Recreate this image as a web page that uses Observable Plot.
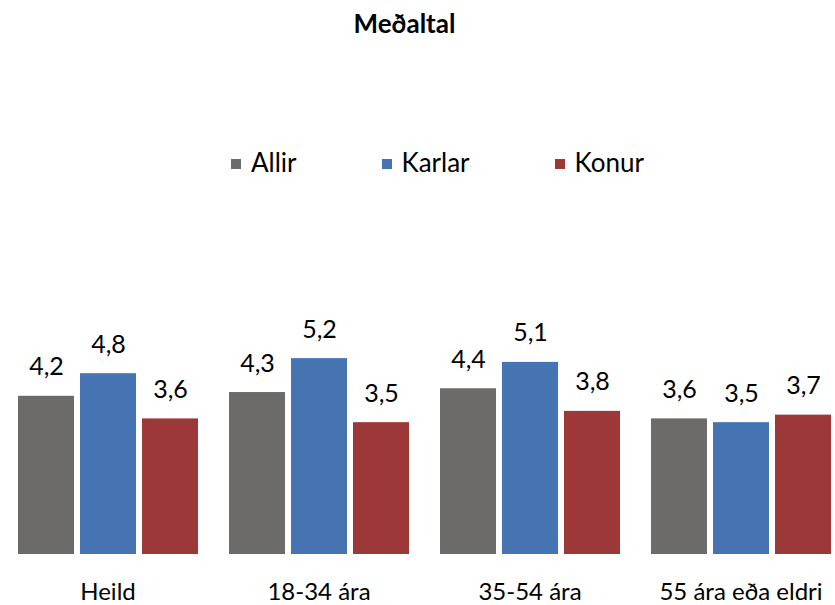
<!DOCTYPE html>
<html><head><meta charset="utf-8">
<script src="https://cdn.jsdelivr.net/npm/d3@7"></script>
<script src="https://cdn.jsdelivr.net/npm/@observablehq/plot@0.6"></script>
<style>
body{margin:0;background:#fff;font-family:Lato,sans-serif;color:#000}
#wrap{position:relative;width:835px;height:605px;overflow:hidden}
#title{position:absolute;left:0;top:10px;width:809px;text-align:center;font-weight:bold;font-size:26px;line-height:26px}
#legend{position:absolute;left:231px;top:149px;display:flex;align-items:center;font-size:26px;line-height:26px;white-space:nowrap}
.item{display:flex;align-items:center;margin-right:85px}
.sw{width:10px;height:10px;margin-right:10px;position:relative;top:2px}
#chart{position:absolute;left:0;top:200px}
</style></head>
<body><div id="wrap"><div id="title"></div><div id="legend"></div><div id="chart"></div></div>
<script>
const title = "Meðaltal";
const categories = ["Heild", "18-34 ára", "35-54 ára", "55 ára eða eldri"];
const series = ["Allir", "Karlar", "Konur"];
const colors = ["#6c6b69", "#4673b1", "#9d3838"];
const allir  = [4.2, 4.3, 4.4, 3.6];
const karlar = [4.8, 5.2, 5.1, 3.5];
const konur  = [3.6, 3.5, 3.8, 3.7];

const fmt = v => v.toFixed(1).replace(".", ",");
const seriesValues = [allir, karlar, konur];
const data = categories.flatMap((c, i) =>
  seriesValues.map((arr, j) => ({cat: c, series: series[j], value: arr[i]})));

document.getElementById("title").textContent = title;
const legend = document.getElementById("legend");
series.forEach((s, j) => {
  const item = document.createElement("div");
  item.className = "item";
  const sw = document.createElement("span");
  sw.className = "sw";
  sw.style.background = colors[j];
  const lab = document.createElement("span");
  lab.textContent = s;
  item.append(sw, lab);
  legend.append(item);
});

const chart = Plot.plot({
  width: 835,
  height: 405,
  marginTop: 128,
  marginBottom: 51,
  marginLeft: 0,
  marginRight: 0,
  style: {fontFamily: "Lato, sans-serif", background: "transparent", color: "#000", overflow: "visible"},
  fx: {domain: categories, range: [0, 847], padding: 0, label: null},
  x: {domain: series, paddingInner: 0.098, paddingOuter: 0.2245, axis: null},
  y: {domain: [0, 6], axis: null},
  color: {domain: series, range: colors},
  marks: [
    Plot.barY(data, {fx: "cat", x: "series", y: "value", fill: "series"}),
    Plot.text(data, {fx: "cat", x: "series", y: "value", text: d => fmt(d.value),
      dy: -21, lineAnchor: "bottom", fontSize: 25, fill: "#000"}),
    Plot.axisFx({anchor: "bottom", tickSize: 0, tickPadding: 28, fontSize: 24, label: null})
  ]
});
document.getElementById("chart").append(chart);
</script>
</body></html>
